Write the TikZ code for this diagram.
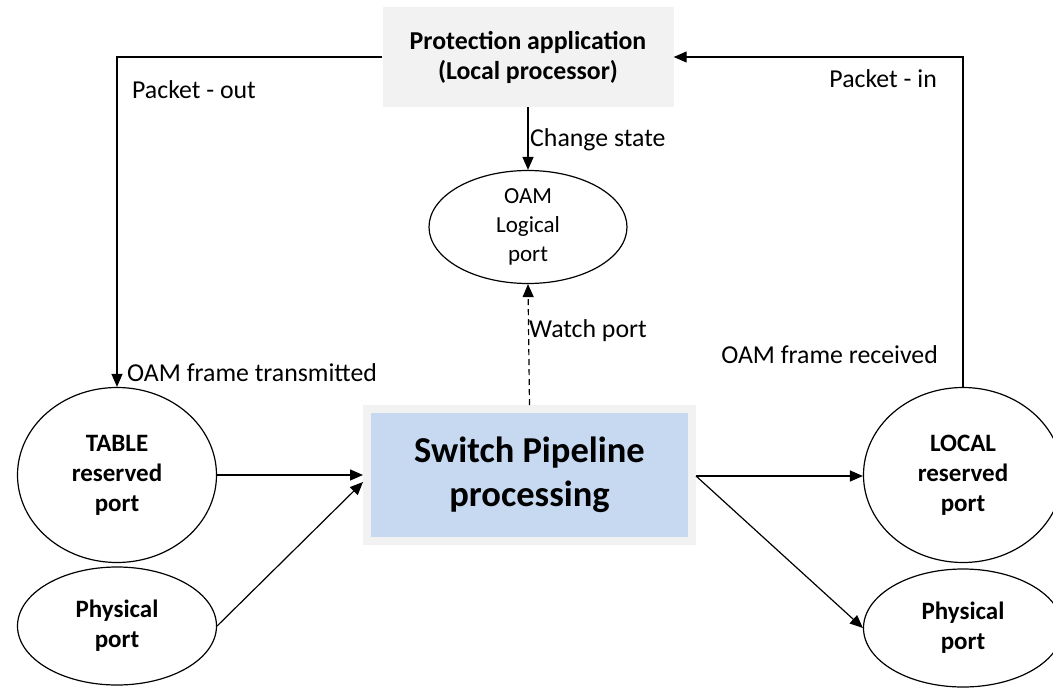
\documentclass[tikz,border=0pt]{standalone}
\usepackage{fontspec}
\setmainfont{Carlito}
\usetikzlibrary{arrows.meta,shapes.geometric}

\definecolor{boxgray}{HTML}{F2F2F2}
\definecolor{pipeblue}{HTML}{C6D9F1}

\begin{document}
\begin{tikzpicture}[x=1pt,y=-1pt,
  port/.style={ellipse,draw=black,line width=1.2pt,inner sep=0pt,align=center,
    font=\fontsize{25}{30}\selectfont\bfseries},
  portlight/.style={port,font=\fontsize{23}{29}\selectfont},
  label/.style={inner sep=0pt,font=\fontsize{25.8}{30}\selectfont},
  link/.style={line width=1.2pt,-{Triangle[length=13pt,width=11pt]}}]

\useasboundingbox (0,0) rectangle (1053,688);
\clip (0,0) rectangle (1053,688);

% processor and pipeline boxes
\node[fill=boxgray,minimum width=291pt,minimum height=100pt,inner sep=0pt,align=center,
      font=\fontsize{25.8}{30}\selectfont\bfseries] (proc) at (528,57)
      {Protection application\\(Local processor)};
\node[fill=pipeblue,draw=boxgray,line width=8pt,minimum width=325pt,minimum height=132pt,
      inner sep=0pt,align=center,font=\fontsize{36.5}{44}\selectfont\bfseries] (pipe) at (529.5,475)
      {Switch Pipeline\\processing};

% ports
\node[portlight,minimum width=198pt,minimum height=113pt] (oam) at (528,227)
      {OAM\\Logical\\port};
\node[port,minimum width=199pt,minimum height=175pt] (table) at (117,475)
      {TABLE\\reserved\\port};
\node[port,minimum width=199pt,minimum height=118pt] (physin) at (117,626)
      {Physical\\port};
\node[port,minimum width=199pt,minimum height=175pt] (local) at (963,475)
      {LOCAL\\reserved\\port};
\node[port,minimum width=199pt,minimum height=118pt] (physout) at (963,628)
      {Physical\\port};

% connectors
\draw[link] (proc.west) -| (table.north);
\draw[link] (local.north) |- (proc.east);
\draw[link] (proc.south) -- (oam.north);
\draw[link,dashed,dash pattern=on 6pt off 4pt] (pipe.north) -- (oam.south);
\draw[link] (table.east) -- (table.east -| pipe.west);
\draw[link] (physin.east) -- ([yshift=-7pt]pipe.west);
\coordinate (pout) at ([yshift=-1pt]pipe.east);
\draw[link] (pout) -- (pout -| local.west);
\draw[link] (pout) -- (physout.west);

% connector labels
\node[label,anchor=base west] (lpo) at (132,98) {Packet - out};
\node[label,anchor=base west] (loft) at (127,381) {OAM frame transmitted};
\node[label,anchor=base west] (lcs) at (530,146) {Change state};
\node[label,anchor=base west] (lwp) at (529,337) {Watch port};
\node[label,anchor=base east] (lpi) at (937,87) {Packet - in};
\node[label,anchor=base east] (lofr) at (938,363) {OAM frame received};
\end{tikzpicture}
\end{document}
